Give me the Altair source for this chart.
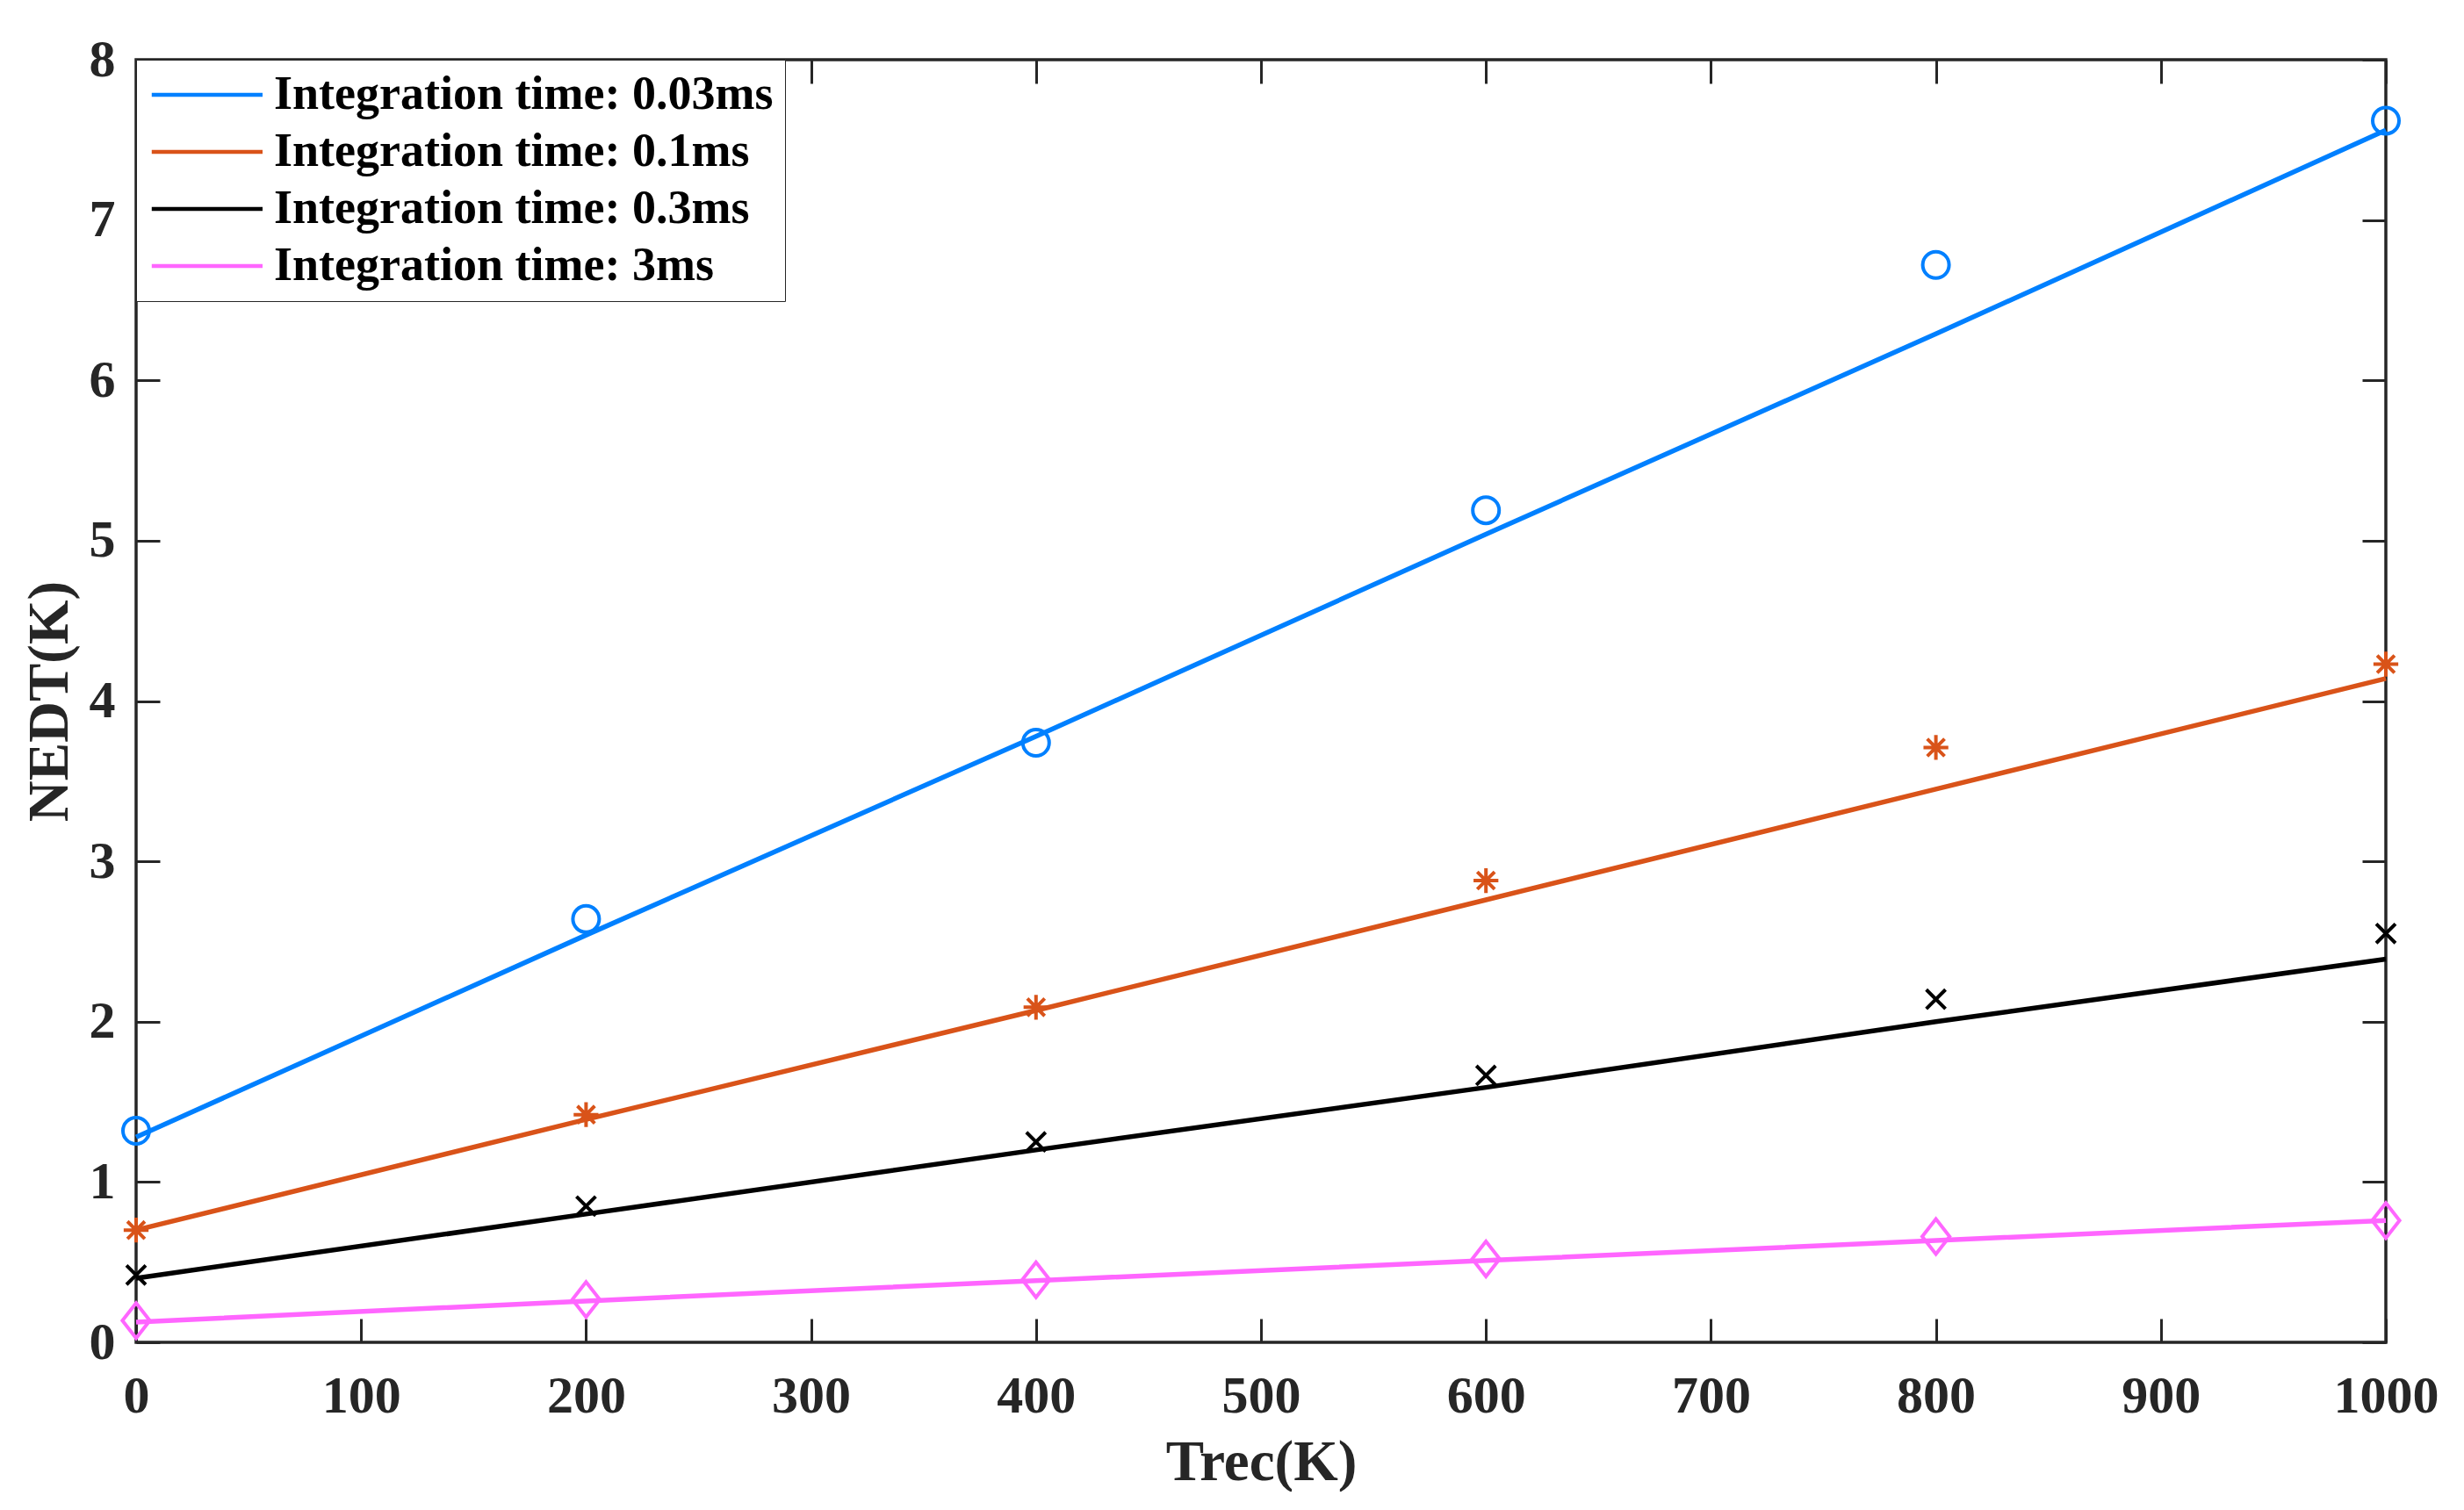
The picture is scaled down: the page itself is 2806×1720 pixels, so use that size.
import altair as alt
import pandas as pd

# ---------------- data ----------------
trec = [0, 200, 400, 600, 800, 1000]
series = ["Integration time: 0.03ms", "Integration time: 0.1ms",
          "Integration time: 0.3ms", "Integration time: 3ms"]
colors = ["#0080FF", "#D95319", "#000000", "#FF66FF"]

# measured points (markers)
pts_003 = [1.32, 2.64, 3.74, 5.19, 6.72, 7.62]
pts_01 = [0.70, 1.42, 2.09, 2.88, 3.71, 4.23]
pts_03 = [0.42, 0.85, 1.25, 1.665, 2.14, 2.55]
pts_3 = [0.135, 0.267, 0.39, 0.52, 0.66, 0.76]

# fitted lines
fit_003 = [1.28, 2.54, 3.78, 5.04, 6.29, 7.56]
fit_01 = [0.70, 1.39, 2.07, 2.76, 3.45, 4.14]
fit_03 = [0.40, 0.80, 1.20, 1.59, 2.00, 2.39]
fit_3 = [0.126, 0.258, 0.385, 0.51, 0.635, 0.76]

x_ticks = [0, 100, 200, 300, 400, 500, 600, 700, 800, 900, 1000]
y_ticks = [0, 1, 2, 3, 4, 5, 6, 7, 8]

# marker shapes (SVG paths) and sizes
shape_paths = [
    "circle",
    "M0,-1L0,1M-1,0L1,0M-0.7,-0.7L0.7,0.7M-0.7,0.7L0.7,-0.7",
    "M-1,-1L1,1M-1,1L1,-1",
    "M0,-1L0.78,0L0,1L-0.78,0Z",
]
shape_sizes = [900, 800, 480, 1600]

rows_pts = []
rows_fit = []
for s, p, f, shp, sz in zip(series, [pts_003, pts_01, pts_03, pts_3],
                            [fit_003, fit_01, fit_03, fit_3], shape_paths, shape_sizes):
    for x, pv, fv in zip(trec, p, f):
        rows_pts.append({"series": s, "trec": x, "nedt": pv, "shp": shp, "sz": sz})
        rows_fit.append({"series": s, "trec": x, "nedt": fv})
df_pts = pd.DataFrame(rows_pts)
df_fit = pd.DataFrame(rows_fit)

W, H = 2562, 1461
FONT = "Liberation Serif"
AXC = "#262626"

xscale = alt.Scale(domain=[0, 1000], nice=False, zero=False)
yscale = alt.Scale(domain=[0, 8], nice=False, zero=False)
cscale = alt.Scale(domain=series, range=colors)

# label axes (no ticks)
x_main = alt.Axis(orient="bottom", values=x_ticks, format="d", ticks=False, tickSize=0,
                  domain=False, grid=False, labelPadding=79, labelBaseline="alphabetic",
                  labelFont=FONT, labelFontWeight="bold", labelFontSize=60, labelColor=AXC,
                  title="Trec(K)", titleFont=FONT, titleFontWeight="bold", titleFontSize=65,
                  titleColor=AXC, titleX=W / 2, titleY=156, titleBaseline="alphabetic",
                  titleAlign="center", labelFlush=False, labelOverlap=False)
y_main = alt.Axis(orient="left", values=y_ticks, format="d", ticks=False, tickSize=0,
                  domain=False, grid=False, labelPadding=24, labelBaseline="middle",
                  labelAlign="right",
                  labelFont=FONT, labelFontWeight="bold", labelFontSize=60, labelColor=AXC,
                  title="NEDT(K)", titleFont=FONT, titleFontWeight="bold", titleFontSize=65,
                  titleColor=AXC, titleX=-99, titleY=H / 2, titleAngle=270,
                  titleBaseline="middle", titleAlign="center", labelFlush=False,
                  labelOverlap=False)

def tick_axis(orient, offset, values):
    return alt.Axis(orient=orient, offset=offset, values=values, labels=False, domain=False,
                    grid=False, ticks=True, tickSize=27, tickWidth=3, tickColor=AXC,
                    title=None)

lines = alt.Chart(df_fit).mark_line(strokeWidth=5.5).encode(
    x=alt.X("trec:Q", scale=xscale, axis=x_main),
    y=alt.Y("nedt:Q", scale=yscale, axis=y_main),
    color=alt.Color("series:N", scale=cscale, sort=series,
                    legend=alt.Legend(orient="none", legendX=0, legendY=0, title=None,
                                      symbolType="M-1.11,0H5.2", symbolSize=1600,
                                      symbolStrokeWidth=4.5, labelFont=FONT,
                                      labelFontSize=54, labelFontWeight="bold",
                                      labelColor="#000000", strokeColor=AXC,
                                      fillColor="white", padding=13, rowPadding=11,
                                      labelOffset=90, labelLimit=1000)),
    detail="series:N",
)

points = alt.Chart(df_pts).mark_point(filled=False, strokeWidth=4, opacity=1).encode(
    x=alt.X("trec:Q", scale=xscale, axis=tick_axis("top", -H, x_ticks)),
    y=alt.Y("nedt:Q", scale=yscale, axis=tick_axis("right", -W, y_ticks)),
    color=alt.Color("series:N", scale=cscale, legend=None),
    shape=alt.Shape("shp:N", scale=None),
    size=alt.Size("sz:Q", scale=None),
)

ghost = alt.Chart(df_pts).mark_point(opacity=0).encode(
    x=alt.X("trec:Q", scale=xscale, axis=tick_axis("bottom", -H, x_ticks)),
    y=alt.Y("nedt:Q", scale=yscale, axis=tick_axis("left", -W, y_ticks)),
)

chart = alt.layer(lines, points, ghost).resolve_axis(
    x="independent", y="independent"
).properties(
    width=W, height=H,
    autosize=alt.AutoSizeParams(type="none"),
    padding={"left": 147, "top": 60, "right": 80, "bottom": 170},
    background="white",
).configure_view(stroke=AXC, strokeWidth=3.5)

chart.save("out.html", embed_options={"renderer": "svg", "actions": False})
